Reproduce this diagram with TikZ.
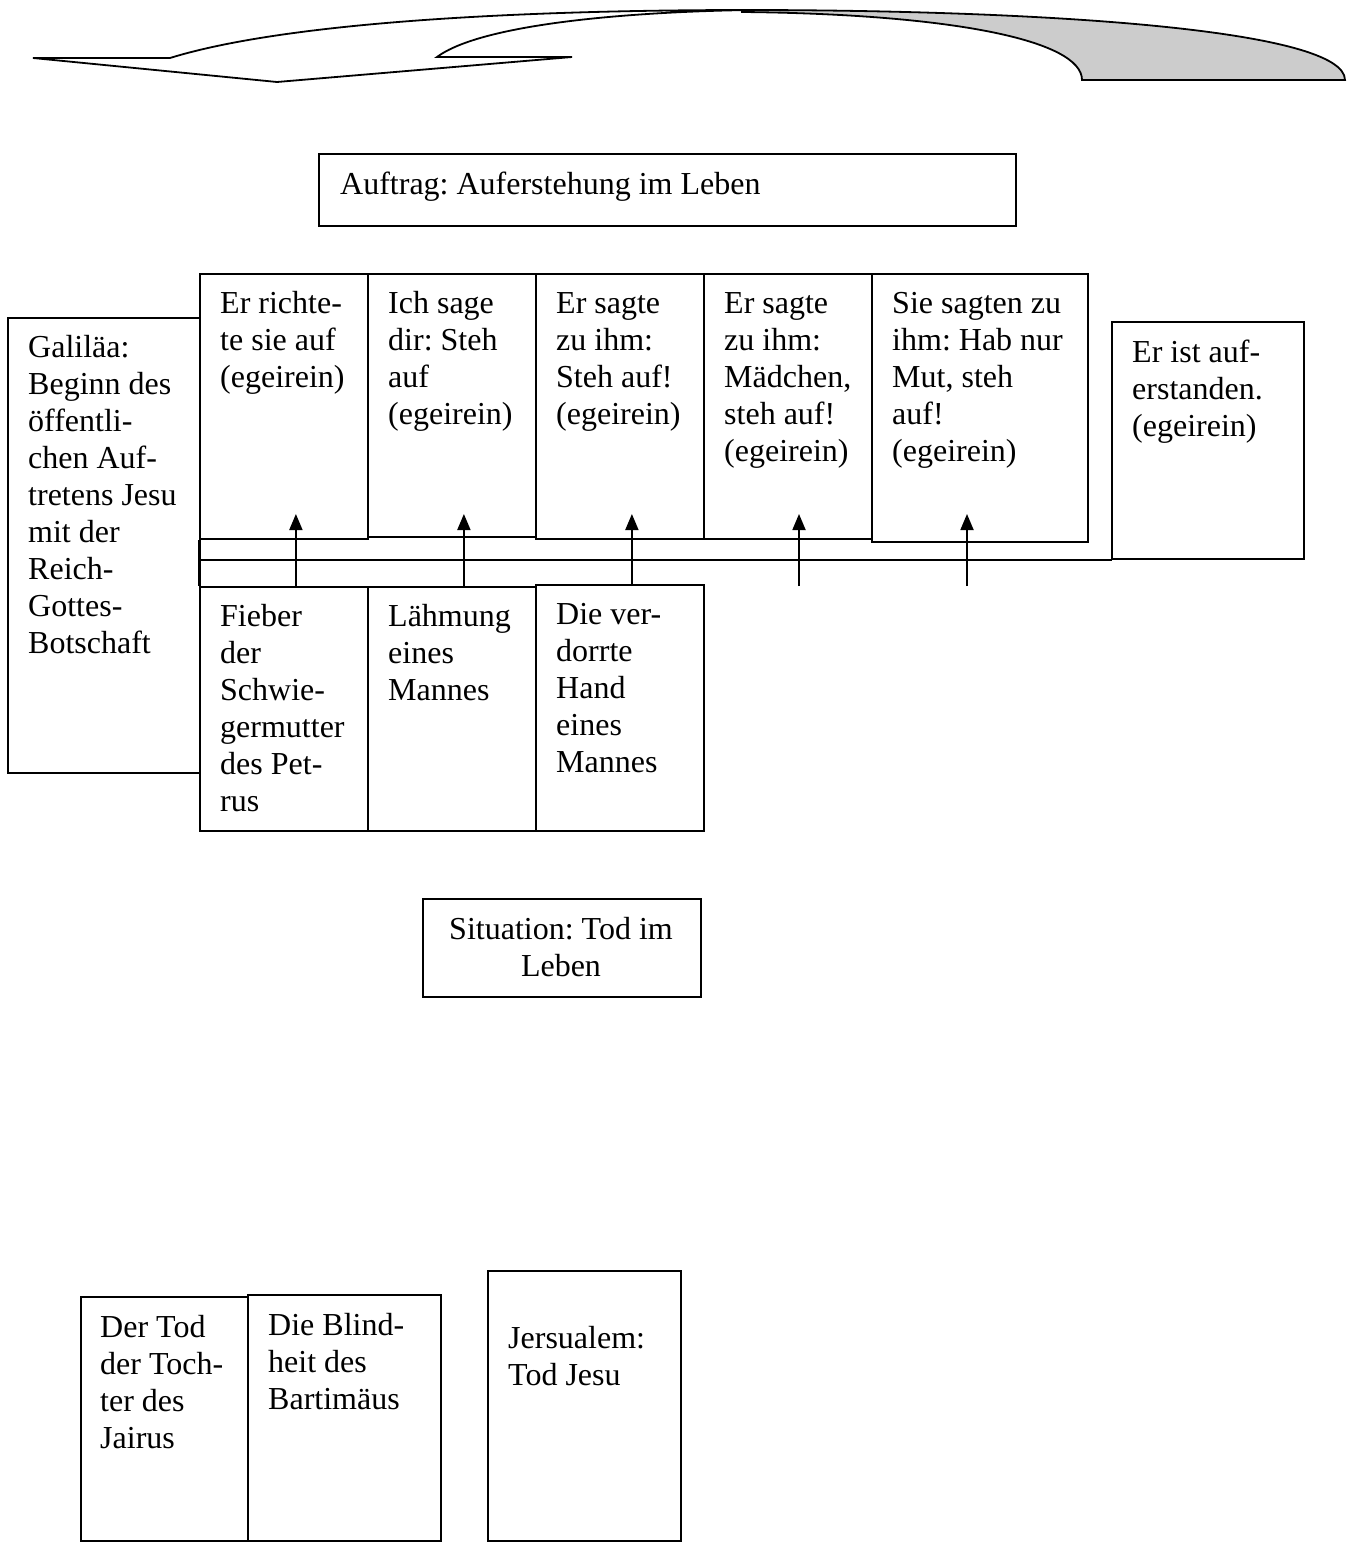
\documentclass[tikz,border=0pt]{standalone}
\usepackage{fontspec}
\setmainfont{Liberation Serif}
\usetikzlibrary{arrows.meta}
\frenchspacing
\tikzset{
  box/.style={draw=black, line width=1.8pt, rectangle, inner sep=0pt, anchor=north west},
  txt/.style={inner sep=0pt, anchor=base west, align=left, font=\fontsize{32}{37}\selectfont\frenchspacing},
  ctxt/.style={inner sep=0pt, anchor=base, align=center, font=\fontsize{32}{37}\selectfont\frenchspacing},
  arr/.style={draw=black, line width=1.8pt, -{Triangle[length=16pt,width=13pt]}},
  bandline/.style={draw=black, line width=1.8pt},
  frontarrow/.style={draw=black, line width=1.8pt, fill=white, line join=miter},
  backarrow/.style={draw=black, line width=1.8pt, fill=black!20},
}
\begin{document}
\begin{tikzpicture}[x=1pt,y=-1pt]
\useasboundingbox (0,0) rectangle (1364,1544);

% curved arrow at top
\path[backarrow] (742,10) .. controls (1050,10) and (1345,30) .. (1345,80)
   -- (1082,80) .. controls (1082,40) and (950,14) .. (742,12) -- cycle;
\path[frontarrow] (33,58) -- (170,58) .. controls (280,24) and (500,10) .. (750,10)
   .. controls (620,12) and (480,25) .. (437,57) -- (572,57) -- (277,82) -- cycle;

% boxes
\node[box, minimum width=697pt, minimum height=72pt] (auftrag) at (318,153) {};
\node[box, minimum width=192pt, minimum height=455pt] (gal) at (7,317) {};
\node[box, minimum width=168pt, minimum height=265pt] (b1) at (199,273) {};
\node[box, minimum width=168pt, minimum height=263pt] (b2) at (367,273) {};
\node[box, minimum width=168pt, minimum height=265pt] (b3) at (535,273) {};
\node[box, minimum width=168pt, minimum height=265pt] (b4) at (703,273) {};
\node[box, minimum width=216pt, minimum height=268pt] (b5) at (871,273) {};
\node[box, minimum width=192pt, minimum height=237pt] (e) at (1111,321) {};
\node[box, minimum width=168pt, minimum height=244pt] (f1) at (199,586) {};
\node[box, minimum width=168pt, minimum height=244pt] (f2) at (367,586) {};
\node[box, minimum width=168pt, minimum height=246pt] (f3) at (535,584) {};
\node[box, minimum width=278pt, minimum height=98pt] (sit) at (422,898) {};
\node[box, minimum width=167pt, minimum height=244pt] (d1) at (80,1296) {};
\node[box, minimum width=193pt, minimum height=246pt] (d2) at (247,1294) {};
\node[box, minimum width=193pt, minimum height=270pt] (j) at (487,1270) {};

% band between rows
\draw[bandline] (b1.south west) -- (f1.north west);
\coordinate (bandL) at (199,560);
\coordinate (bandR) at (1111,560);
\draw[bandline] (bandL) -- (bandR) -- (e.south west);

% texts (anchor = baseline of the last line)
\node[txt] (tauftrag) at (340,194) {Auftrag: Auferstehung im Leben};
\node[txt] (tgal) at (28,653) {Galiläa:\\Beginn des\\öffentli-\\chen Auf-\\tretens Jesu\\mit der\\Reich-\\Gottes-\\Botschaft};
\node[txt] (tb1) at (220,387) {Er richte-\\te sie auf\\(egeirein)};
\node[txt] (tb2) at (388,424) {Ich sage\\dir: Steh\\auf\\(egeirein)};
\node[txt] (tb3) at (556,424) {Er sagte\\zu ihm:\\Steh auf!\\(egeirein)};
\node[txt] (tb4) at (724,461) {Er sagte\\zu ihm:\\Mädchen,\\steh auf!\\(egeirein)};
\node[txt] (tb5) at (892,461) {Sie sagten zu\\ihm: Hab nur\\Mut, steh\\auf!\\(egeirein)};
\node[txt] (te) at (1132,436) {Er ist auf-\\erstanden.\\(egeirein)};
\node[txt] (tf1) at (220,811) {Fieber\\der\\Schwie-\\germutter\\des Pet-\\rus};
\node[txt] (tf2) at (388,700) {Lähmung\\eines\\Mannes};
\node[txt] (tf3) at (556,772) {Die ver-\\dorrte\\Hand\\eines\\Mannes};
\node[ctxt] (tsit) at (561,976) {Situation: Tod im\\Leben};
\node[txt] (td1) at (100,1448) {Der Tod\\der Toch-\\ter des\\Jairus};
\node[txt] (td2) at (268,1409) {Die Blind-\\heit des\\Bartimäus};
\node[txt] (tj) at (508,1385) {Jersualem:\\Tod Jesu};

% arrows from lower row into upper row
\coordinate (a4) at (799,586);
\coordinate (a5) at (967,586);
\draw[arr] ([xshift=12pt]f1.north) -- ([xshift=12pt,yshift=72pt]f1.north);
\draw[arr] ([xshift=12pt]f2.north) -- ([xshift=12pt,yshift=72pt]f2.north);
\draw[arr] ([xshift=12pt,yshift=-2pt]f3.north) -- ([xshift=12pt,yshift=70pt]f3.north);
\draw[arr] (a4) -- ([yshift=72pt]a4);
\draw[arr] (a5) -- ([yshift=72pt]a5);
\end{tikzpicture}
\end{document}
